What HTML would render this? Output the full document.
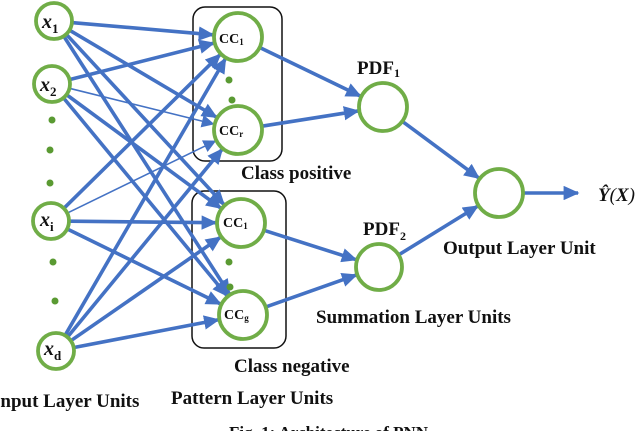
<!DOCTYPE html>
<html><head><meta charset="utf-8"><style>
html,body{margin:0;padding:0;background:#fff;width:640px;height:431px;overflow:hidden}
svg{display:block}
text{font-family:"Liberation Serif",serif;font-weight:bold;fill:#111}
</style></head><body>
<svg id="s" width="640" height="431" viewBox="0 0 640 431">
<defs>
<marker id="ah" markerWidth="4.4" markerHeight="4" refX="4" refY="2" orient="auto" markerUnits="strokeWidth"><path d="M0,0 L4.4,2 L0,4 z" fill="#4472C4"/></marker>
<marker id="ah2" markerWidth="8" markerHeight="8" refX="7.5" refY="4" orient="auto" markerUnits="strokeWidth"><path d="M0,0 L8,4 L0,8 z" fill="#4472C4"/></marker>
</defs>
<rect x="193" y="7" width="89" height="154" rx="12" fill="none" stroke="#111" stroke-width="1.5"/>
<rect x="192" y="191" width="94" height="157" rx="12" fill="none" stroke="#111" stroke-width="1.5"/>
<g id="edges"></g>
<g fill="#5a9a32">
<circle cx="52" cy="120" r="3.5"/><circle cx="50" cy="150" r="3.5"/><circle cx="50" cy="183" r="3.5"/>
<circle cx="53" cy="262" r="3.5"/><circle cx="55" cy="301" r="3.5"/>
<circle cx="229" cy="80" r="3.5"/><circle cx="232" cy="100" r="3.5"/>
<circle cx="229" cy="262" r="3.5"/><circle cx="230" cy="287" r="3.5"/>
</g>
<g id="nodes" fill="#fff" stroke="#70AD47" stroke-width="3.8"></g>
<text x="42" y="28" font-size="20" font-style="italic" font-weight="normal">x<tspan font-size="13" dy="5" font-style="normal">1</tspan></text>
<text x="40" y="91" font-size="20" font-style="italic" font-weight="normal">x<tspan font-size="13" dy="5" font-style="normal">2</tspan></text>
<text x="40" y="226" font-size="20" font-style="italic">x<tspan font-size="13" dy="5" font-style="normal">i</tspan></text>
<text x="44" y="355" font-size="20" font-style="italic">x<tspan font-size="13" dy="5" font-style="normal">d</tspan></text>
<text x="219" y="43" font-size="14" font-weight="normal">CC<tspan font-size="9" dy="2">1</tspan></text>
<text x="219" y="135" font-size="14" font-weight="normal">CC<tspan font-size="9" dy="2">r</tspan></text>
<text x="223" y="227" font-size="14" font-weight="normal">CC<tspan font-size="9" dy="2">1</tspan></text>
<text x="224" y="319" font-size="14" font-weight="normal">CC<tspan font-size="9" dy="2">g</tspan></text>
<text x="357" y="74" font-size="19">PDF<tspan font-size="12" dy="3">1</tspan></text>
<text x="363" y="235" font-size="19">PDF<tspan font-size="12" dy="5">2</tspan></text>
<text x="241" y="179" font-size="19">Class positive</text>
<text x="234" y="372" font-size="19">Class negative</text>
<text x="443" y="254" font-size="19">Output Layer Unit</text>
<text x="316" y="323" font-size="19">Summation Layer Units</text>
<text x="-7" y="407" font-size="19">Input Layer Units</text>
<text x="171" y="404" font-size="19">Pattern Layer Units</text>
<text x="598" y="201" font-size="19" font-style="italic">Ŷ<tspan font-weight="normal">(</tspan>X<tspan font-weight="normal">)</tspan></text>
<text x="229" y="438" font-size="17" font-weight="normal"><tspan font-weight="bold">Fig. 1:</tspan> Architecture of PNN</text>
</svg>
<script>
var N={x1:[54,21,18],x2:[52,84,18],xi:[51,221,18],xd:[56,351,18],
p1:[238,37,24],pr:[238,130,24],n1:[241,223,24],ng:[243,315,24],
s1:[383,107,24],s2:[379,267,23],o:[499,193,24]};
var ns="http://www.w3.org/2000/svg";
var E=document.getElementById('edges'),G=document.getElementById('nodes');
for(var k in N){var c=document.createElementNS(ns,'circle');c.setAttribute('cx',N[k][0]);c.setAttribute('cy',N[k][1]);c.setAttribute('r',N[k][2]);G.appendChild(c);}
function L(a,b,w){var A=N[a],B=N[b];var dx=B[0]-A[0],dy=B[1]-A[1],d=Math.hypot(dx,dy);
var ux=dx/d,uy=dy/d;var l=document.createElementNS(ns,'line');
l.setAttribute('x1',A[0]+ux*(A[2]+1));l.setAttribute('y1',A[1]+uy*(A[2]+1));
l.setAttribute('x2',B[0]-ux*(B[2]+1));l.setAttribute('y2',B[1]-uy*(B[2]+1));
l.setAttribute('stroke','#4472C4');l.setAttribute('stroke-width',w);
l.setAttribute('marker-end',w<2?'url(#ah2)':'url(#ah)');E.appendChild(l);}
['x1','x2','xi','xd'].forEach(function(i){['p1','pr','n1','ng'].forEach(function(p){
var w=3.6;if((i=='x2'||i=='xi')&&p=='pr')w=1.6;L(i,p,w);});});
L('p1','s1',3.6);L('pr','s1',3.6);L('n1','s2',3.6);L('ng','s2',3.6);
L('s1','o',3.6);L('s2','o',3.6);
var l=document.createElementNS(ns,'line');l.setAttribute('x1',524);l.setAttribute('y1',193);l.setAttribute('x2',578);l.setAttribute('y2',193);
l.setAttribute('stroke','#4472C4');l.setAttribute('stroke-width',3.6);l.setAttribute('marker-end','url(#ah)');E.appendChild(l);
</script>
</body></html>
